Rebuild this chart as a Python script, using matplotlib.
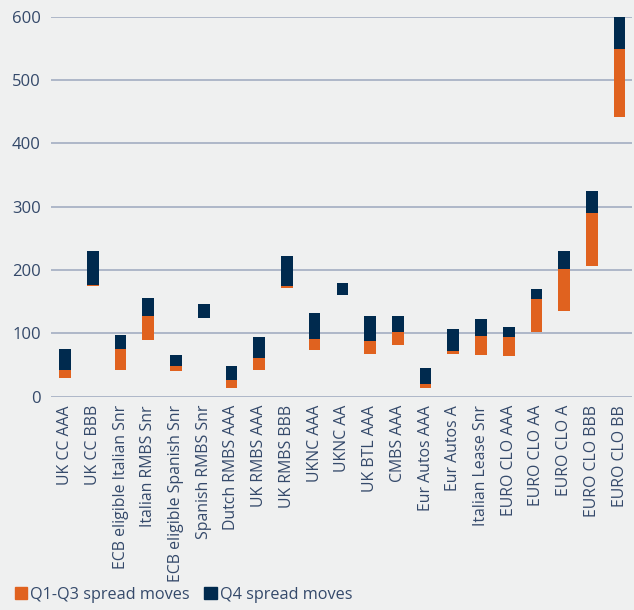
import matplotlib.pyplot as plt
from matplotlib.patches import Patch
import numpy as np

categories = ['UK CC AAA', 'UK CC BBB', 'ECB eligible Italian Snr', 'Italian RMBS Snr',
              'ECB eligible Spanish Snr', 'Spanish RMBS Snr', 'Dutch RMBS AAA', 'UK RMBS AAA',
              'UK RMBS BBB', 'UKNC AAA', 'UKNC AA', 'UK BTL AAA', 'CMBS AAA', 'Eur Autos AAA',
              'Eur Autos A', 'Italian Lease Snr', 'EURO CLO AAA', 'EURO CLO AA', 'EURO CLO A',
              'EURO CLO BBB', 'EURO CLO BB']

# spread levels (bp): start of year, after Q3, end of year
start = [30, 175, 42, 90, 40, 125, 13, 42, 171, 74, 160, 68, 82, 14, 68, 66, 64, 102, 136, 207, 441]
after_q3 = [42, 176, 75, 127, 48, 125, 26, 61, 175, 91, 160, 88, 102, 20, 72, 96, 94, 154, 202, 290, 549]
end = [75, 230, 97, 156, 66, 146, 48, 94, 222, 132, 180, 127, 127, 45, 107, 123, 110, 170, 230, 325, 620]

orange = '#e0621f'
navy = '#002a4e'
bg = '#eff0f0'
text_col = '#34496a'

plt.rcParams['font.family'] = ['Open Sans', 'DejaVu Sans']

fig = plt.figure(figsize=(6.34, 6.10), dpi=100, facecolor=bg)
ax = fig.add_axes([0.080, 0.3497, 0.917, 0.6229], facecolor=bg)

x = np.arange(len(categories))
start = np.array(start)
after_q3 = np.array(after_q3)
end = np.array(end)

ax.bar(x, after_q3 - start, bottom=start, width=0.42, color=orange, zorder=3)
ax.bar(x, end - after_q3, bottom=after_q3, width=0.42, color=navy, zorder=3)

ax.set_ylim(0, 600)
ax.set_xlim(-0.52, 20.45)
ax.set_yticks([0, 100, 200, 300, 400, 500, 600])
ax.yaxis.grid(True, color='#a3adc2', linewidth=1.2, zorder=0)
ax.set_axisbelow(True)
for s in ax.spines.values():
    s.set_visible(False)
ax.set_xticks(x)
ax.set_xticklabels(categories, rotation=90, fontsize=11.4, color=text_col)
ax.tick_params(axis='x', length=0, pad=6)
ax.tick_params(axis='y', length=0, pad=7, labelsize=12, labelcolor=text_col)

handles = [Patch(color=orange, label='Q1-Q3 spread moves'),
           Patch(color=navy, label='Q4 spread moves')]
fig.legend(handles=handles, loc='lower left', bbox_to_anchor=(0.0, -0.012), ncol=2,
           frameon=False, fontsize=11.7, labelcolor=text_col, handlelength=0.75,
           handleheight=0.8, handletextpad=0.2, columnspacing=0.9)

fig.savefig('out.png', dpi=100, facecolor=bg)
